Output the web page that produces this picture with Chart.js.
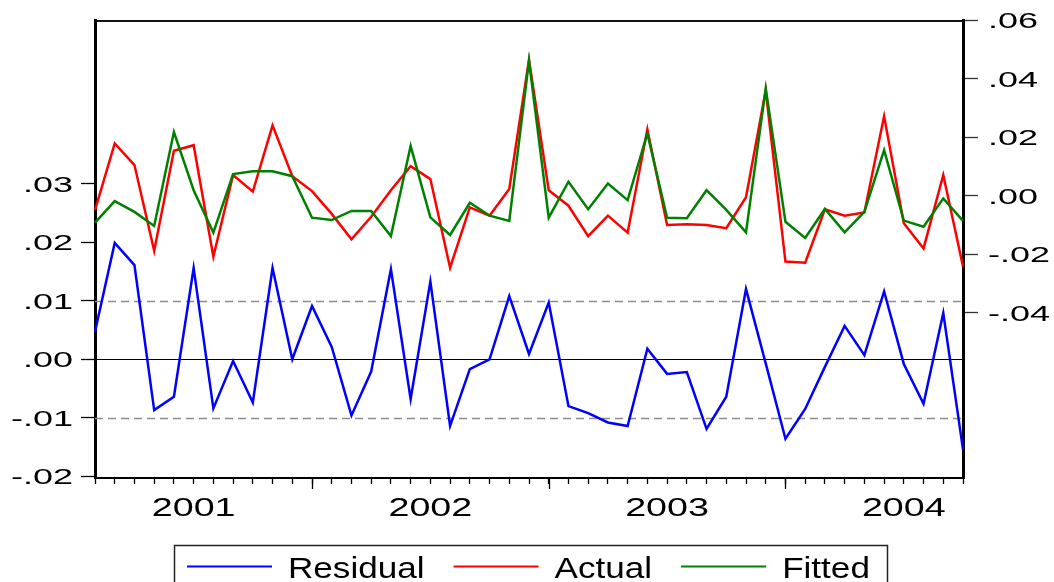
<!DOCTYPE html>
<html>
<head>
<meta charset="utf-8">
<script src="https://cdn.jsdelivr.net/npm/chart.js@4.4.1/dist/chart.umd.min.js"></script>
<style>
  html, body { margin: 0; padding: 0; background: #fff; overflow: hidden; }
  #wrap { width: 1054px; height: 582px; position: relative; }
</style>
</head>
<body>
<div id="wrap"><canvas id="c" width="1054" height="582"></canvas></div>
<script>
// Monthly observations, 2001M02 - 2004M10
const months = [
  "2001M02","2001M03","2001M04","2001M05","2001M06","2001M07","2001M08","2001M09","2001M10","2001M11","2001M12",
  "2002M01","2002M02","2002M03","2002M04","2002M05","2002M06","2002M07","2002M08","2002M09","2002M10","2002M11","2002M12",
  "2003M01","2003M02","2003M03","2003M04","2003M05","2003M06","2003M07","2003M08","2003M09","2003M10","2003M11","2003M12",
  "2004M01","2004M02","2004M03","2004M04","2004M05","2004M06","2004M07","2004M08","2004M09","2004M10"
];

// Residual (left axis)
const residual = [
  0.0047, 0.0199, 0.0161, -0.0087, -0.0064, 0.0156, -0.0084, -0.0003, -0.0074, 0.0156, 0.0000,
  0.0091, 0.0021, -0.0096, -0.0021, 0.0154, -0.0068, 0.0133, -0.0114, -0.0017, 0.0000, 0.0108, 0.0009,
  0.0097, -0.0080, -0.0092, -0.0108, -0.0114, 0.0018, -0.0025, -0.0022, -0.0119, -0.0064, 0.0120, -0.0007,
  -0.0136, -0.0085, -0.0013, 0.0057, 0.0007, 0.0116, -0.0008, -0.0076, 0.0079, -0.0154
];

// Actual and fitted (right axis)
const actual = [
  -0.0049, 0.0179, 0.0105, -0.0188, 0.0154, 0.0173, -0.0208, 0.0071, 0.0014, 0.0241, 0.0067,
  0.0016, -0.0062, -0.0149, -0.0072, 0.0019, 0.0101, 0.0057, -0.0246, -0.0040, -0.0068, 0.0023, 0.0465,
  0.0019, -0.0034, -0.0138, -0.0068, -0.0126, 0.0227, -0.0100, -0.0097, -0.0100, -0.0111, -0.0005, 0.0360,
  -0.0225, -0.0229, -0.0046, -0.0068, -0.0057, 0.0272, -0.0094, -0.0180, 0.0071, -0.0242
];
const fitted = [
  -0.0092, -0.0018, -0.0055, -0.0103, 0.0218, 0.0019, -0.0126, 0.0074, 0.0084, 0.0084, 0.0067,
  -0.0075, -0.0083, -0.0052, -0.0052, -0.0138, 0.0170, -0.0074, -0.0134, -0.0024, -0.0068, -0.0086, 0.0461,
  -0.0075, 0.0048, -0.0046, 0.0042, -0.0015, 0.0213, -0.0075, -0.0077, 0.0019, -0.0048, -0.0125, 0.0367,
  -0.0089, -0.0144, -0.0045, -0.0125, -0.0055, 0.0156, -0.0085, -0.0106, -0.0009, -0.0086
];

const leftTicks  = [-0.02, -0.01, 0.00, 0.01, 0.02, 0.03];
const rightTicks = [-0.04, -0.02, 0.00, 0.02, 0.04, 0.06];
const bandLines  = [-0.01, 0.01];

const FONT = '"Liberation Sans", Arial, Helvetica, sans-serif';

function fmt(v) {
  const s = Math.abs(v).toFixed(2).replace(/^0/, '');
  return (v < -1e-9 ? '-' : '') + s;
}

// Draw text widened horizontally by factor sx
function wideText(ctx, text, x, y, size, sx, align) {
  ctx.save();
  ctx.font = size + 'px ' + FONT;
  const w = ctx.measureText(text).width * sx;
  let left = x;
  if (align === 'right') left = x - w;
  else if (align === 'center') left = x - w / 2;
  ctx.translate(left, y);
  ctx.scale(sx, 1);
  ctx.textAlign = 'left';
  ctx.textBaseline = 'alphabetic';
  ctx.fillStyle = '#000';
  ctx.fillText(text, 0, 0);
  ctx.restore();
  return w;
}

const framePlugin = {
  id: 'framePlugin',
  beforeDatasetsDraw(chart) {
    const { ctx, chartArea: a, scales } = chart;
    ctx.save();
    ctx.strokeStyle = '#8c8c8c';
    ctx.lineWidth = 1.5;
    ctx.setLineDash([8, 5]);
    bandLines.forEach(v => {
      const y = Math.round(scales.y.getPixelForValue(v)) + 0.5;
      ctx.beginPath(); ctx.moveTo(a.left, y); ctx.lineTo(a.right, y); ctx.stroke();
    });
    ctx.setLineDash([]);
    ctx.strokeStyle = '#000';
    ctx.lineWidth = 1.2;
    const y0 = Math.round(scales.y.getPixelForValue(0)) + 0.5;
    ctx.beginPath(); ctx.moveTo(a.left, y0); ctx.lineTo(a.right, y0); ctx.stroke();
    ctx.restore();
  },
  afterDraw(chart) {
    const { ctx, chartArea: a, scales } = chart;
    ctx.save();
    // top edge of the frame
    ctx.strokeStyle = '#111';
    ctx.lineWidth = 2;
    ctx.beginPath(); ctx.moveTo(a.left, a.top + 1); ctx.lineTo(a.right, a.top + 1); ctx.stroke();

    // longer ticks at the start of each year
    ctx.strokeStyle = '#000';
    ctx.lineWidth = 1.3;
    months.forEach((m, i) => {
      if (m.endsWith('M01')) {
        const x = Math.round(scales.x.getPixelForValue(i)) + 0.5;
        ctx.beginPath(); ctx.moveTo(x, a.bottom); ctx.lineTo(x, a.bottom + 11); ctx.stroke();
      }
    });

    // year labels centred on each year
    months.forEach((m, i) => {
      if (m.endsWith('M07')) {
        wideText(ctx, m.slice(0, 4), scales.x.getPixelForValue(i), 516, 26, 1.45, 'center');
      }
    });

    // left axis labels (residual)
    scales.y.ticks.forEach(t => {
      const y = scales.y.getPixelForValue(t.value);
      wideText(ctx, fmt(t.value), 73, y + 8, 22.5, 1.6, 'right');
    });
    // right axis labels (actual / fitted)
    scales.y1.ticks.forEach(t => {
      const y = scales.y1.getPixelForValue(t.value);
      wideText(ctx, fmt(t.value), 988, y + 8, 22.5, 1.6, 'left');
    });

    // legend
    ctx.strokeStyle = '#222';
    ctx.lineWidth = 1.5;
    ctx.strokeRect(174.5, 545.5, 713, 60);
    let x = 187;
    const ly = 566.5;
    chart.data.datasets.forEach(ds => {
      ctx.strokeStyle = ds.borderColor;
      ctx.lineWidth = 2;
      ctx.beginPath(); ctx.moveTo(x, ly); ctx.lineTo(x + 85, ly); ctx.stroke();
      const w = wideText(ctx, ds.label, x + 101, 578, 30, 1.17, 'left');
      x = x + 101 + w + 29;
    });
    ctx.restore();
  }
};

new Chart(document.getElementById('c'), {
  type: 'line',
  data: {
    labels: months,
    datasets: [
      { label: 'Residual', data: residual, yAxisID: 'y',  borderColor: '#0000ff', order: 2 },
      { label: 'Actual',   data: actual,   yAxisID: 'y1', borderColor: '#ff0000', order: 1 },
      { label: 'Fitted',   data: fitted,   yAxisID: 'y1', borderColor: '#008000', order: 0 }
    ]
  },
  options: {
    responsive: false,
    animation: false,
    devicePixelRatio: 1,
    layout: { padding: { top: 20, left: 0, right: 0, bottom: 0 } },
    elements: {
      line: { borderWidth: 2.5, tension: 0, fill: false, borderJoinStyle: 'miter' },
      point: { radius: 0, hoverRadius: 0 }
    },
    plugins: { legend: { display: false }, tooltip: { enabled: false } },
    scales: {
      x: {
        type: 'category',
        offset: false,
        grid: { drawOnChartArea: false, drawTicks: true, tickLength: 6, tickColor: '#000', tickWidth: 1.3 },
        border: { display: true, color: '#000', width: 2 },
        ticks: { display: false, autoSkip: false },
        afterFit(s) { s.height = 104; }
      },
      y: {
        position: 'left',
        min: -0.0203,
        max: 0.058,
        afterBuildTicks(s) { s.ticks = leftTicks.map(v => ({ value: v })); },
        grid: { drawOnChartArea: false, tickLength: 14, tickColor: '#000', tickWidth: 1.3 },
        border: { display: true, color: '#000', width: 3 },
        ticks: { display: false },
        afterFit(s) { s.width = 95; }
      },
      y1: {
        position: 'right',
        min: -0.0965,
        max: 0.0601,
        afterBuildTicks(s) { s.ticks = rightTicks.map(v => ({ value: v })); },
        grid: { drawOnChartArea: false, tickLength: 15, tickColor: '#333', tickWidth: 1.3 },
        border: { display: true, color: '#000', width: 3 },
        ticks: { display: false },
        afterFit(s) { s.width = 91; }
      }
    }
  },
  plugins: [framePlugin]
});
</script>
</body>
</html>
